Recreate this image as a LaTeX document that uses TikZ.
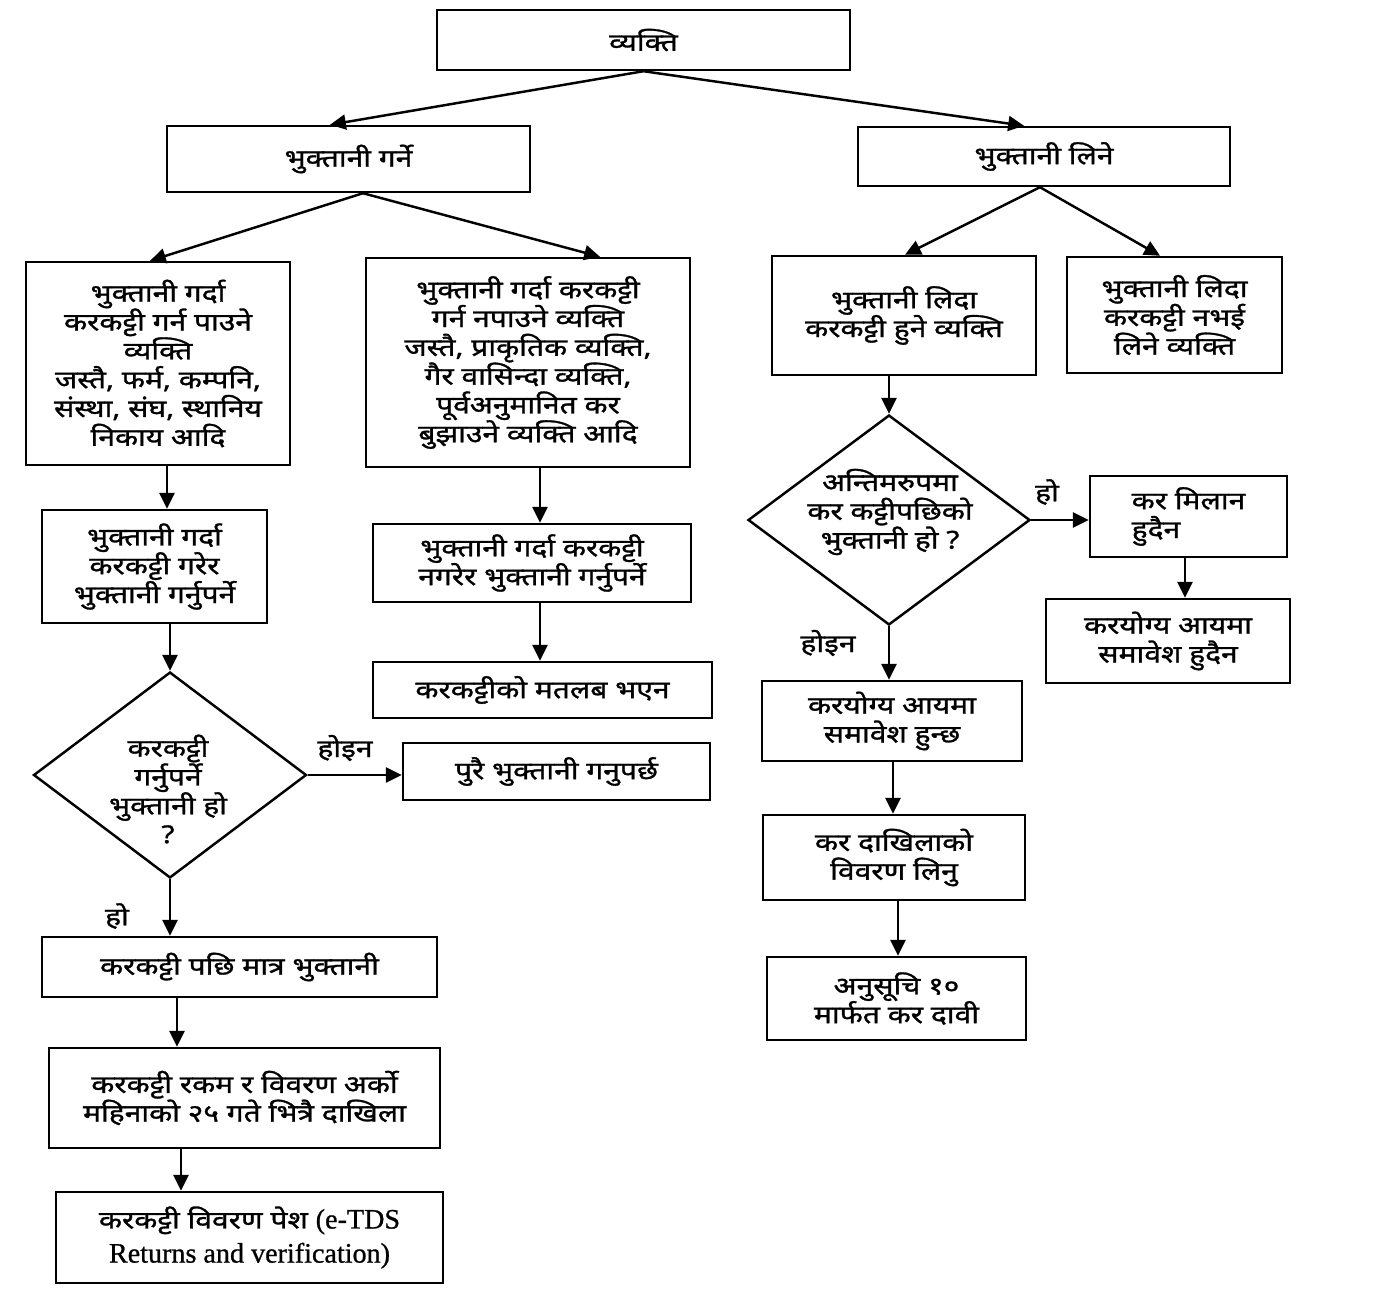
\documentclass[tikz,border=0pt]{standalone}
\usepackage{fontspec}
\newfontfamily\deva[Script=Devanagari,FakeStretch=1.22,FakeBold=1.2]{Noto Sans}
\newfontfamily\lat[FakeBold=0.8]{Liberation Serif}
\usetikzlibrary{arrows.meta,shapes.geometric}
\begin{document}
\begin{tikzpicture}[x=0.02cm,y=-0.02cm,
  txt/.style={font=\deva\fontsize{14}{16.4}\selectfont},
  box/.style={draw,line width=1.4pt,inner sep=0pt,align=center,txt},
  dia/.style={draw,diamond,line width=1.4pt,inner sep=0pt},
  arr/.style={line width=1.4pt,-{Triangle[length=9pt,width=8.5pt]}},
  lbl/.style={txt,inner sep=1pt}]
\useasboundingbox (0,0) rectangle (1378,1300);
\fill[white] (0,0) rectangle (1378,1300);

% top level
\node[box,minimum width=8.26cm,minimum height=1.2cm] (vy) at (643.5,40) {व्यक्ति};
\node[box,minimum width=7.26cm,minimum height=1.32cm] (pg) at (348.5,159) {भुक्तानी गर्ने};
\node[box,minimum width=7.44cm,minimum height=1.18cm] (pl) at (1044,156.5) {भुक्तानी लिने};

% second level
\node[box,minimum width=5.28cm,minimum height=4.06cm] (A) at (158,363.5) {भुक्तानी गर्दा\\करकट्टी गर्न पाउने\\व्यक्ति\\जस्तै, फर्म, कम्पनि,\\संस्था, संघ, स्थानिय\\निकाय आदि};
\node[box,minimum width=6.48cm,minimum height=4.18cm] (B) at (528,362.5) {भुक्तानी गर्दा करकट्टी\\गर्न नपाउने व्यक्ति\\जस्तै, प्राकृतिक व्यक्ति,\\गैर वासिन्दा व्यक्ति,\\पूर्वअनुमानित कर\\बुझाउने व्यक्ति आदि};
\node[box,minimum width=5.28cm,minimum height=2.38cm] (C) at (904,315.5) {भुक्तानी लिदा\\करकट्टी हुने व्यक्ति};
\node[box,minimum width=4.30cm,minimum height=2.32cm] (D) at (1174.5,315) {भुक्तानी लिदा\\करकट्टी नभई\\लिने व्यक्ति};

% left column
\node[box,minimum width=4.50cm,minimum height=2.26cm] (E) at (154.5,566.5) {भुक्तानी गर्दा\\करकट्टी गरेर\\भुक्तानी गर्नुपर्ने};
\node[dia,minimum width=5.46cm,minimum height=4.12cm] (ld) at (170,775) {};
\node[txt,align=center,inner sep=0pt] (ldt) at (168,789) {करकट्टी\\गर्नुपर्ने\\भुक्तानी हो\\?};
\node[box,minimum width=7.90cm,minimum height=1.20cm] (N) at (239.5,967) {करकट्टी पछि मात्र भुक्तानी};
\node[box,minimum width=7.82cm,minimum height=2.00cm] (O) at (244.5,1098) {करकट्टी रकम र विवरण अर्को\\महिनाको २५ गते भित्रै दाखिला};
\node[box,minimum width=7.74cm,minimum height=1.82cm] (P) at (249.5,1237.5) {करकट्टी विवरण पेश {\lat\fontsize{16}{16.4}\selectfont(e-TDS}\\[3pt]{\lat\fontsize{16}{16.4}\selectfont Returns and verification)}};

% middle column
\node[box,minimum width=6.36cm,minimum height=1.56cm] (F) at (532,563) {भुक्तानी गर्दा करकट्टी\\नगरेर भुक्तानी गर्नुपर्ने};
\node[box,minimum width=6.78cm,minimum height=1.12cm] (G) at (542.5,690) {करकट्टीको मतलब भएन};
\node[box,minimum width=6.14cm,minimum height=1.14cm] (H) at (556.5,771.5) {पुरै भुक्तानी गनुपर्छ};

% right column
\node[dia,minimum width=5.64cm,minimum height=4.2cm] (rd) at (889,520) {};
\node[txt,align=center,inner sep=0pt] (rdt) at (890,512) {अन्तिमरुपमा\\कर कट्टीपछिको\\भुक्तानी हो ?};
\node[box,minimum width=3.94cm,minimum height=1.62cm,align=left] (I) at (1188.5,516.5) {कर मिलान\\हुदैन};
\node[box,minimum width=4.88cm,minimum height=1.68cm] (J) at (1168,641) {करयोग्य आयमा\\समावेश हुदैन};
\node[box,minimum width=5.20cm,minimum height=1.60cm] (K) at (892,721) {करयोग्य आयमा\\समावेश हुन्छ};
\node[box,minimum width=5.24cm,minimum height=1.70cm] (L) at (894,857.5) {कर दाखिलाको\\विवरण लिनु};
\node[box,minimum width=5.18cm,minimum height=1.66cm] (M) at (896.5,998.5) {अनुसूचि १०\\मार्फत कर दावी};

% connectors
\draw[arr] (vy.south) -- (pg.north -| 330,0);
\draw[arr] (vy.south) -- (pl.north -| 1024,0);
\draw[arr] (pg.south -| 363,0) -- (A.north -| 150,0);
\draw[arr] (pg.south -| 363,0) -- (B.north -| 600,0);
\draw[arr] (pl.south -| 1040,0) -- (C.north -| 905,0);
\draw[arr] (pl.south -| 1040,0) -- (D.north -| 1160,0);

\draw[arr] (A.south -| 167,0) -- (E.north -| 167,0);
\draw[arr] (E.south -| ld.north) -- (ld.north);
\draw[arr] (ld.south) -- (N.north -| ld.south);
\draw[arr] (N.south -| 177,0) -- (O.north -| 177,0);
\draw[arr] (O.south -| 181,0) -- (P.north -| 181,0);
\draw[arr] (ld.east) -- (H.west |- ld.east);

\draw[arr] (B.south -| 540,0) -- (F.north -| 540,0);
\draw[arr] (F.south -| 540,0) -- (G.north -| 540,0);

\draw[arr] (C.south -| rd.north) -- (rd.north);
\draw[arr] (rd.east) -- (I.west |- rd.east);
\draw[arr] (I.south -| 1185,0) -- (J.north -| 1185,0);
\draw[arr] (rd.south) -- (K.north -| rd.south);
\draw[arr] (K.south -| 893,0) -- (L.north -| 893,0);
\draw[arr] (L.south -| 898,0) -- (M.north -| 898,0);

% branch labels
\node[lbl] (l1) at (345,748) {होइन};
\node[lbl] (l2) at (117,916) {हो};
\node[lbl] (l3) at (1047,492) {हो};
\node[lbl] (l4) at (828,643) {होइन};
\end{tikzpicture}
\end{document}
